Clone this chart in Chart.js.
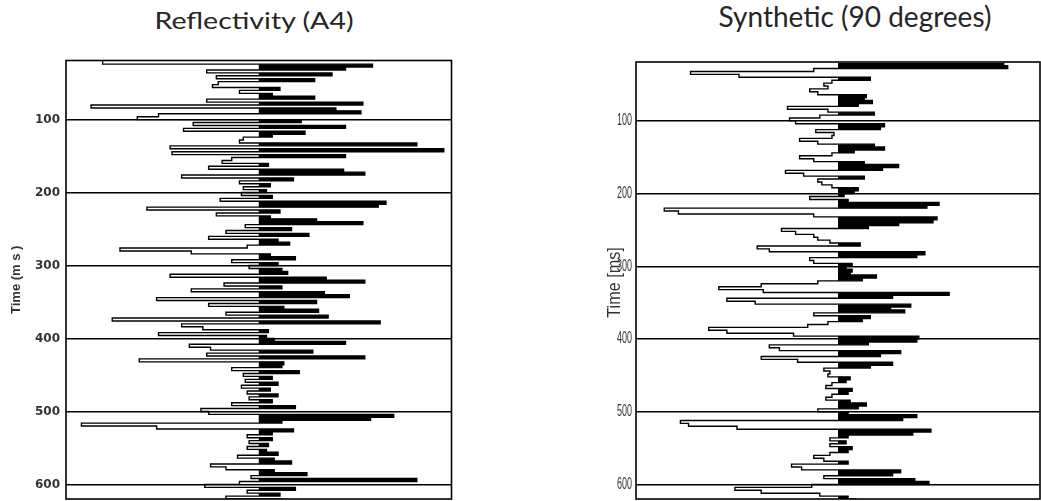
<!DOCTYPE html>
<html>
<head>
<meta charset="utf-8">
<script src="https://cdn.jsdelivr.net/npm/chart.js@4.4.1/dist/chart.umd.min.js"></script>
<style>
  html, body { margin: 0; padding: 0; background: #fff; overflow: hidden; }
  body { position: relative; width: 1041px; height: 501px; }
  .panel { position: absolute; top: 0; height: 501px; }
  .heading { position: absolute; white-space: nowrap; font-family: Lato, 'Open Sans', sans-serif;
             color: #262626; line-height: 1; }
</style>
</head>
<body>
<div class="heading" style="left:254px; top:9px; font-size:23px; transform: translateX(-50%) scaleX(1.24);">Reflectivity (A4)</div>
<div class="heading" style="left:855px; top:2px; font-size:28px; transform: translateX(-50%);">Synthetic (90 degrees)</div>
<div class="panel" style="left:0; width:470px;"><canvas id="reflectivity"></canvas></div>
<div class="panel" style="left:560px; width:490px;"><canvas id="synthetic"></canvas></div>
<script>
// two-way time (ms), one sample every 4 ms
const sampleTimes = [
  20, 24, 28, 32, 36, 40, 44, 48, 52, 56,
  60, 64, 68, 72, 76, 80, 84, 88, 92, 96,
  100, 104, 108, 112, 116, 120, 124, 128, 132, 136,
  140, 144, 148, 152, 156, 160, 164, 168, 172, 176,
  180, 184, 188, 192, 196, 200, 204, 208, 212, 216,
  220, 224, 228, 232, 236, 240, 244, 248, 252, 256,
  260, 264, 268, 272, 276, 280, 284, 288, 292, 296,
  300, 304, 308, 312, 316, 320, 324, 328, 332, 336,
  340, 344, 348, 352, 356, 360, 364, 368, 372, 376,
  380, 384, 388, 392, 396, 400, 404, 408, 412, 416,
  420, 424, 428, 432, 436, 440, 444, 448, 452, 456,
  460, 464, 468, 472, 476, 480, 484, 488, 492, 496,
  500, 504, 508, 512, 516, 520, 524, 528, 532, 536,
  540, 544, 548, 552, 556, 560, 564, 568, 572, 576,
  580, 584, 588, 592, 596, 600, 604, 608, 612, 616,
  620
];

// reflection coefficients of well A4, normalised to the panel width
const reflectivity = [
  -0.81, 0.59, 0.45, -0.27, 0.38, -0.22, 0.29, -0.21, -0.24, 0.11,
  -0.10, 0.07, 0.29, -0.27, 0.54, -0.87, 0.40, 0.53, -0.52, -0.63,
  0.22, -0.34, 0.45, -0.39, 0.24, 0.07, -0.08, -0.10, 0.82, -0.46,
  0.96, -0.45, 0.45, -0.14, -0.19, 0.05, -0.26, 0.44, 0.55, -0.40,
  0.18, -0.10, 0.06, -0.08, 0.04, -0.09, 0.07, -0.20, 0.66, 0.62,
  -0.58, 0.11, -0.22, 0.06, 0.30, 0.54, -0.07, 0.17, -0.17, 0.26,
  -0.26, 0.10, 0.16, -0.06, -0.72, -0.35, 0.06, 0.19, -0.14, 0.10,
  -0.05, 0.12, 0.15, -0.46, 0.35, 0.55, -0.18, 0.12, -0.35, 0.34,
  0.47, -0.53, 0.30, -0.26, 0.13, 0.31, -0.17, 0.36, -0.76, 0.63,
  -0.40, -0.29, 0.05, -0.52, 0.04, 0.08, 0.45, -0.36, -0.25, 0.28,
  -0.27, 0.55, -0.62, 0.13, 0.12, -0.14, 0.21, -0.08, 0.07, -0.07,
  0.10, -0.09, 0.06, -0.06, 0.10, -0.05, 0.07, -0.14, 0.19, -0.30,
  -0.26, 0.70, 0.58, 0.12, -0.92, -0.53, 0.18, 0.07, -0.06, 0.07,
  -0.05, 0.05, -0.06, 0.04, 0.10, -0.11, 0.08, 0.17, -0.25, -0.17,
  0.08, 0.25, -0.04, 0.82, -0.10, -0.28, 0.19, -0.06, 0.11, -0.17,
  0.12
];

// synthetic trace, 90 degree phase wavelet
const synthetic = [
  0.82, 0.84, -0.12, -0.73, -0.49, 0.16, -0.03, -0.07, -0.05, -0.14,
  -0.10, 0.14, 0.13, 0.17, 0.10, -0.25, -0.05, 0.18, -0.09, -0.24,
  -0.21, 0.23, 0.21, -0.11, -0.02, -0.03, -0.19, -0.10, 0.18, 0.23,
  0.08, -0.03, -0.19, -0.12, 0.13, 0.30, 0.22, -0.26, -0.17, 0.13,
  -0.10, -0.08, -0.03, 0.10, 0.08, 0.03, -0.14, 0.05, 0.50, 0.44,
  -0.86, -0.79, -0.12, 0.49, 0.47, 0.30, 0.15, -0.28, -0.21, -0.12,
  -0.10, -0.04, 0.11, -0.40, -0.34, 0.43, 0.39, -0.14, -0.12, 0.07,
  0.04, 0.07, 0.06, 0.19, 0.12, -0.10, -0.38, -0.59, -0.37, 0.55,
  0.27, -0.55, -0.41, 0.36, 0.26, 0.33, -0.12, 0.16, 0.12, -0.05,
  -0.15, -0.64, -0.55, -0.22, 0.40, 0.39, 0.15, -0.34, -0.29, 0.31,
  0.21, -0.38, -0.20, 0.27, 0.16, -0.07, -0.04, -0.05, 0.06, 0.04,
  -0.03, -0.06, 0.07, 0.05, -0.03, -0.06, 0.06, 0.14, 0.10, -0.10,
  0.05, 0.39, 0.32, -0.78, -0.74, -0.50, 0.46, 0.37, 0.05, -0.04,
  0.04, -0.04, 0.07, 0.05, -0.04, -0.12, -0.07, 0.05, -0.23, -0.18,
  0.31, 0.27, -0.07, 0.38, 0.45, -0.13, -0.51, -0.38, -0.09, 0.05,
  0.09
];

const timeTicks = [100, 200, 300, 400, 500, 600];

// wiggle + variable area: the positive half is filled, the whole trace is stroked
function traceDatasets(values) {
  const trace = sampleTimes.map((t, i) => ({ x: values[i], y: t }));
  const positive = sampleTimes.map((t, i) => ({ x: Math.max(values[i], 0), y: t }));
  return [
    { data: positive, stepped: 'after', fill: 'origin', backgroundColor: '#000',
      borderColor: 'rgba(0,0,0,0)', borderWidth: 0, pointRadius: 0 },
    { data: trace, stepped: 'after', fill: false, borderColor: '#000',
      borderWidth: 1.4, pointRadius: 0 }
  ];
}

const frame = {
  id: 'frame',
  afterDatasetsDraw(chart) {
    const { ctx, chartArea: a } = chart;
    ctx.save();
    ctx.strokeStyle = '#000';
    ctx.lineWidth = 1.6;
    ctx.strokeRect(a.left, a.top, a.right - a.left, a.bottom - a.top);
    ctx.restore();
  }
};

// squeezed tick labels and rotated title for the synthetic panel's time axis
const condensedAxis = {
  id: 'condensedAxis',
  afterDraw(chart, args, o) {
    const { ctx, chartArea: a, scales: { y } } = chart;
    ctx.save();
    ctx.fillStyle = o.color;
    ctx.textBaseline = 'middle';
    ctx.textAlign = 'right';
    ctx.font = o.tickFont;
    y.ticks.forEach(t => {
      ctx.save();
      ctx.translate(y.right - o.tickPad, y.getPixelForValue(t.value));
      ctx.scale(o.tickSqueeze, 1);
      ctx.fillText(String(t.value), 0, 0);
      ctx.restore();
    });
    ctx.translate(o.titleX, (a.top + a.bottom) / 2 + 2);
    ctx.rotate(-Math.PI / 2);
    ctx.scale(o.titleSqueeze, 1);
    ctx.textAlign = 'center';
    ctx.font = o.titleFont;
    ctx.fillText(o.title, 0, 0);
    ctx.restore();
  }
};

function makeChart(id, values, cfg) {
  return new Chart(document.getElementById(id), {
    type: 'line',
    data: { datasets: traceDatasets(values) },
    options: {
      indexAxis: 'y',
      responsive: true,
      maintainAspectRatio: false,
      animation: false,
      layout: { padding: { top: cfg.top, right: cfg.right, bottom: 2, left: 0 } },
      plugins: {
        legend: { display: false },
        tooltip: { enabled: false },
        condensedAxis: cfg.condensed || {}
      },
      scales: {
        x: { type: 'linear', display: false, min: -1, max: 1 },
        y: {
          type: 'linear',
          reverse: true,
          min: 19,
          max: 620,
          afterBuildTicks: s => { s.ticks = timeTicks.map(v => ({ value: v })); },
          afterFit: s => { s.width = cfg.axisWidth; s.paddingTop = 0; s.paddingBottom = 0; },
          border: { display: false },
          grid: { color: '#000', lineWidth: 1.5, drawTicks: false },
          ticks: { display: !cfg.condensed, padding: cfg.tickPad, color: '#333', font: cfg.tickFont },
          title: {
            display: !cfg.condensed, text: cfg.axisTitle, color: '#3a3030',
            font: cfg.titleFont, padding: { top: cfg.titlePad, bottom: 0 }
          }
        }
      }
    },
    plugins: cfg.condensed ? [frame, condensedAxis] : [frame]
  });
}

makeChart('reflectivity', reflectivity, {
  top: 60.5, right: 18.5, axisWidth: 66, tickPad: 6,
  tickFont: { family: 'DejaVu Sans', size: 12, weight: 'bold' },
  axisTitle: 'Time (m s )',
  titleFont: { family: 'Liberation Sans', size: 13, weight: 'bold' },
  titlePad: 8.5
});

makeChart('synthetic', synthetic, {
  top: 62, right: 10, axisWidth: 76,
  condensed: {
    color: '#333',
    tickFont: "16px 'Liberation Sans', sans-serif",
    tickPad: 4,
    tickSqueeze: 0.56,
    title: 'Time [ms]',
    titleFont: "18px 'Liberation Sans', sans-serif",
    titleSqueeze: 0.9,
    titleX: 55
  }
});
</script>
</body>
</html>
